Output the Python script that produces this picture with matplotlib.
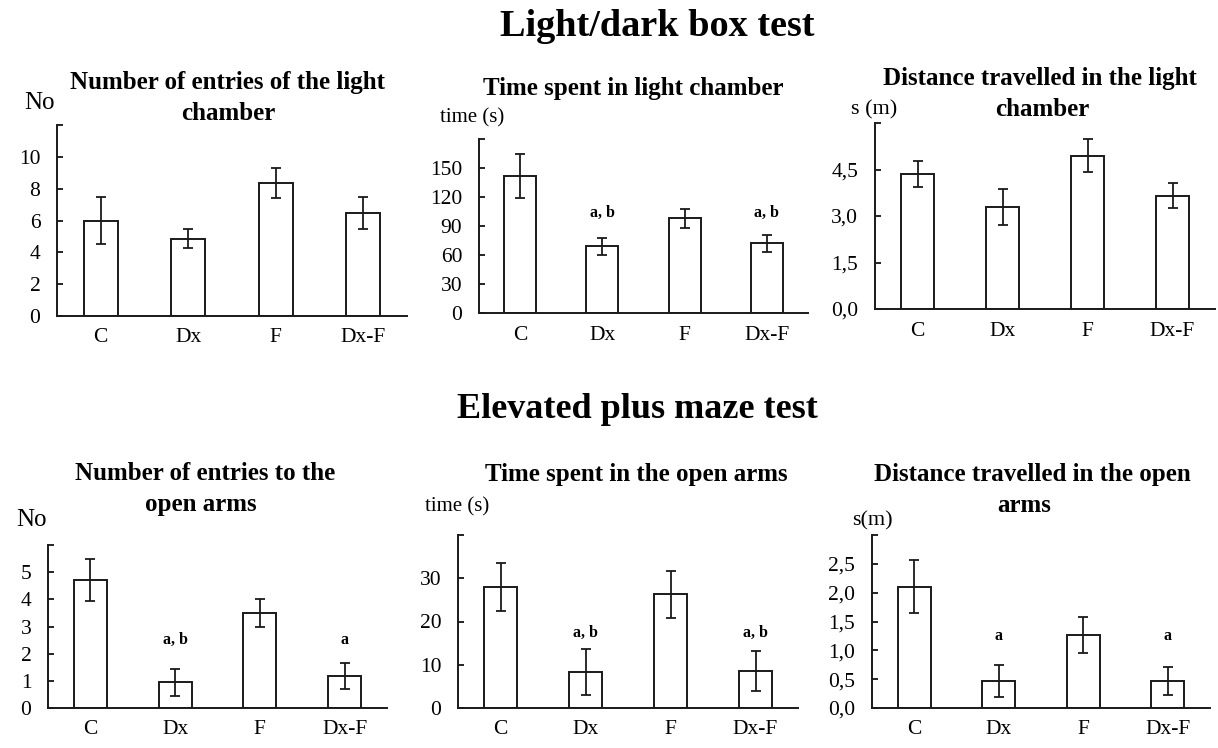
import matplotlib
matplotlib.use("Agg")
import matplotlib.pyplot as plt

plt.rcParams["font.family"] = ["Liberation Serif", "DejaVu Serif"]

groups = ["C", "Dx", "F", "Dx-F"]

# Light/dark box
ld_entries = [6.0, 4.85, 8.35, 6.45]
ld_entries_err = [1.5, 0.6, 0.92, 1.0]
ld_time = [142, 69, 98, 72]
ld_time_err = [23, 9, 10, 9]
ld_dist = [4.35, 3.28, 4.95, 3.65]
ld_dist_err = [0.43, 0.58, 0.52, 0.4]

# Elevated plus maze
epm_entries = [4.72, 0.95, 3.5, 1.17]
epm_entries_err = [0.77, 0.5, 0.5, 0.47]
epm_time = [28.0, 8.3, 26.3, 8.6]
epm_time_err = [5.5, 5.4, 5.4, 4.6]
epm_dist = [2.1, 0.47, 1.27, 0.47]
epm_dist_err = [0.46, 0.28, 0.31, 0.24]

W, H = 1218, 748
fig = plt.figure(figsize=(W / 100, H / 100), dpi=100)


def px_axes(x0, x1, ytop, ybot):
    return fig.add_axes([x0 / W, 1 - ybot / H, (x1 - x0) / W, (ybot - ytop) / H])


def bar_panel(rect, vals, errs, ymax, ticks, ticklabels, notes=None, note_y=None):
    ax = px_axes(*rect)
    x = range(len(groups))
    ax.bar(x, vals, width=0.39, color="white", edgecolor="#1a1a1a", linewidth=1.4,
           yerr=errs, capsize=3.8,
           error_kw=dict(ecolor="#1a1a1a", elinewidth=1.3, capthick=1.3))
    ax.set_xlim(-0.5, 3.5)
    ax.set_ylim(0, ymax)
    ax.set_xticks(list(x))
    ax.set_xticklabels(groups, fontsize=15.5)
    ax.set_yticks(ticks + [ymax])
    ax.set_yticklabels(ticklabels + [""], fontsize=15.5)
    ax.tick_params(axis="x", length=0, pad=9)
    ax.tick_params(axis="y", direction="in", length=4, width=1.2, pad=12)
    for s in ["top", "right"]:
        ax.spines[s].set_visible(False)
    for s in ["left", "bottom"]:
        ax.spines[s].set_linewidth(1.4)
        ax.spines[s].set_color("#1a1a1a")
    if notes:
        for i, n in enumerate(notes):
            if n:
                ax.text(i, note_y, n, ha="center", va="center",
                        fontsize=11.5, fontweight="bold")
    return ax


def ftext(x, y, s, **kw):
    fig.text(x / W, 1 - y / H, s, **kw)


# row 1
bar_panel((57, 407, 125, 316), ld_entries, ld_entries_err, 12,
          [0, 2, 4, 6, 8, 10], ["0", "2", "4", "6", "8", "10"])
bar_panel((479, 808, 139, 313), ld_time, ld_time_err, 180,
          [0, 30, 60, 90, 120, 150], ["0", "30", "60", "90", "120", "150"],
          notes=["", "a, b", "", "a, b"], note_y=104)
bar_panel((875, 1215, 123, 309), ld_dist, ld_dist_err, 6.0,
          [0, 1.5, 3.0, 4.5], ["0,0", "1,5", "3,0", "4,5"])

# row 2
bar_panel((48, 387, 545, 708), epm_entries, epm_entries_err, 6,
          [0, 1, 2, 3, 4, 5], ["0", "1", "2", "3", "4", "5"],
          notes=["", "a, b", "", "a"], note_y=2.5)
bar_panel((458, 798, 535, 708), epm_time, epm_time_err, 40,
          [0, 10, 20, 30], ["0", "10", "20", "30"],
          notes=["", "a, b", "", "a, b"], note_y=17.3)
bar_panel((872, 1210, 535, 708), epm_dist, epm_dist_err, 3.0,
          [0, 0.5, 1.0, 1.5, 2.0, 2.5], ["0,0", "0,5", "1,0", "1,5", "2,0", "2,5"],
          notes=["", "a", "", "a"], note_y=1.24)

# section titles
ftext(657, 27, "Light/dark box test", ha="center", va="center",
      fontsize=27.5, fontweight="bold")
ftext(637, 410, "Elevated plus maze test", ha="center", va="center",
      fontsize=26, fontweight="bold")

# panel titles (one text per line)
tkw = dict(ha="center", va="center", fontsize=18, fontweight="bold")
ftext(228, 82, "Number of entries of the light", **tkw)
ftext(228, 113, "chamber", **tkw)
ftext(633, 88, "Time spent in light chamber", **tkw)
ftext(1040, 78, "Distance travelled in the light", **tkw)
ftext(1042, 110, "chamber", **tkw)
ftext(205, 473, "Number of entries to the", **tkw)
ftext(201, 505, "open arms", **tkw)
ftext(636, 475, "Time spent in the open arms", **tkw)
ftext(1032, 475, "Distance travelled in the open", **tkw)
ftext(1024, 505, "arms", **tkw)

# unit labels
ftext(39, 103, "No", ha="center", va="center", fontsize=18)
ftext(472, 118, "time (s)", ha="center", va="center", fontsize=15)
ftext(874, 110, "s (m)", ha="center", va="center", fontsize=16)
ftext(31, 520, "No", ha="center", va="center", fontsize=18)
ftext(457, 507, "time (s)", ha="center", va="center", fontsize=15)
ftext(872, 521, "s(m)", ha="center", va="center", fontsize=16)

fig.savefig("out.png", dpi=100, facecolor="white")
